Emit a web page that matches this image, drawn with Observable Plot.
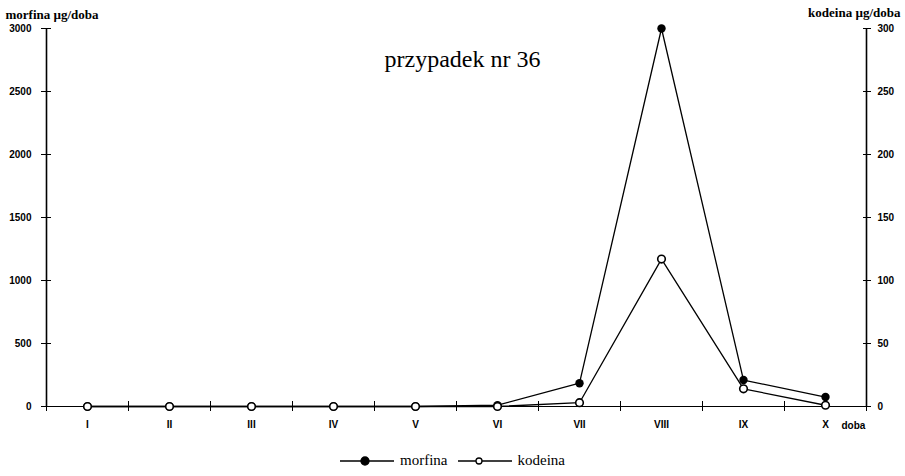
<!DOCTYPE html>
<html><head><meta charset="utf-8">
<script src="https://cdn.jsdelivr.net/npm/d3@7"></script>
<script src="https://cdn.jsdelivr.net/npm/@observablehq/plot@0.6"></script>
<style>
body{margin:0;background:#fff;}
#legend{display:flex;justify-content:center;align-items:center;gap:10px;height:31px;font-family:"Liberation Serif","Times New Roman",serif;font-size:15px;color:#000;padding-left:0px;}
#legend .it{display:flex;align-items:center;gap:6px;}
</style></head>
<body>
<div id="chart"></div>
<div id="legend"></div>
<script>
// ---- data ----
const days = ["I","II","III","IV","V","VI","VII","VIII","IX","X"];
const morfina = [0,0,0,0,0,10,185,3000,210,75];   // µg/doba (left axis)
const kodeina = [0,0,0,0,0,0,3,117,14,1];          // µg/doba (right axis)
const leftTicks = [0,500,1000,1500,2000,2500,3000];
const rightTicks = [0,50,100,150,200,250,300];
const title = "przypadek nr 36";
const leftLabel = "morfina µg/doba";
const rightLabel = "kodeina µg/doba";
const seriesNames = ["morfina","kodeina"];

const leftMax = leftTicks[leftTicks.length-1];
const rightMax = rightTicks[rightTicks.length-1];
const ratio = leftMax / rightMax;
const xDomain = [0.5, days.length + 0.5];
const idx = days.map((d,i)=>i+1);
const bounds = d3.range(days.length + 1).map(i => i + 0.5);
const rows = days.map((d,i)=>({i:i+1, day:d, m:morfina[i], k:kodeina[i]*ratio}));
const serif = "Liberation Serif, Times New Roman, serif";

const chart = Plot.plot({
  width: 905, height: 445,
  marginLeft: 46, marginRight: 39, marginTop: 28, marginBottom: 39,
  x: {domain: xDomain, label: null},
  y: {domain: [0, leftMax], label: null},
  style: {fontFamily: "Liberation Sans, Arial, sans-serif", fontSize: "10px", fontWeight: "bold", color: "#000", background: "#fff"},
  marks: [
    Plot.ruleX([xDomain[0], xDomain[1]], {y1: 0, y2: leftMax, strokeWidth: 1.6}),
    Plot.ruleY([0], {strokeWidth: 1.2}),
    Plot.axisY(leftTicks, {anchor: "left", tickSize: 10, dx: 5, tickFormat: () => "", label: null}),
    Plot.axisY(leftTicks, {anchor: "left", tickSize: 0, tickPadding: 15, tickFormat: d => String(d), label: null}),
    Plot.axisY(rightTicks.map(v => v*ratio), {anchor: "right", tickSize: 8, dx: -4, tickFormat: () => "", label: null}),
    Plot.axisY(rightTicks.map(v => v*ratio), {anchor: "right", tickSize: 0, tickPadding: 11, tickFormat: d => String(d/ratio), label: null}),
    Plot.axisX(bounds, {anchor: "bottom", tickSize: 10, dy: -5, tickFormat: () => "", label: null}),
    Plot.axisX(idx, {anchor: "bottom", tickSize: 0, tickPadding: 14, tickFormat: i => days[i-1], label: null}),
    Plot.text([{i: days.length, t: "doba"}], {x: "i", text: "t", frameAnchor: "bottom", dy: 19, dx: 16, textAnchor: "start", lineAnchor: "middle"}),
    Plot.line(rows, {x: "i", y: "m", stroke: "black", strokeWidth: 1.3}),
    Plot.dot(rows, {x: "i", y: "m", r: 4.2, fill: "black"}),
    Plot.line(rows, {x: "i", y: "k", stroke: "black", strokeWidth: 1.3}),
    Plot.dot(rows, {x: "i", y: "k", r: 3.8, fill: "white", stroke: "black", strokeWidth: 1.6}),
    Plot.text([title], {frameAnchor: "top", dx: 6, dy: 31, fontFamily: serif, fontSize: 24, fontWeight: "normal", lineAnchor: "middle"}),
    Plot.text([leftLabel], {frameAnchor: "top-left", dx: -41, dy: -14, textAnchor: "start", lineAnchor: "middle", fontFamily: serif, fontSize: 13}),
    Plot.text([rightLabel], {frameAnchor: "top-right", dx: 34, dy: -16, textAnchor: "end", lineAnchor: "middle", fontFamily: serif, fontSize: 13})
  ]
});
document.getElementById("chart").appendChild(chart);

const legend = document.getElementById("legend");
seriesNames.forEach((name, j) => {
  const it = document.createElement("div");
  it.className = "it";
  const filled = j === 0;
  it.innerHTML = `<svg width="54" height="12"><line x1="0" y1="6" x2="54" y2="6" stroke="black" stroke-width="1.3"/><circle cx="${filled?25:21}" cy="6" r="${filled?4:3}" fill="${filled?'black':'white'}" stroke="black" stroke-width="1.3"/></svg><span>${name}</span>`;
  legend.appendChild(it);
});
</script>
</body></html>
